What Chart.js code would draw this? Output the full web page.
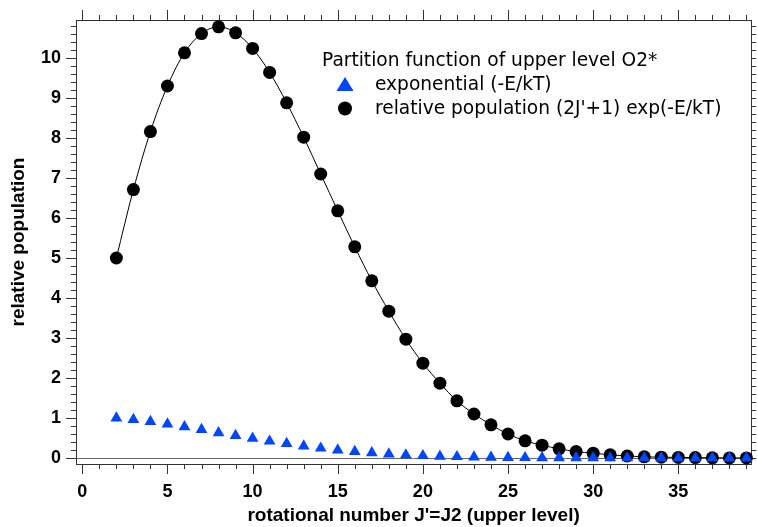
<!DOCTYPE html>
<html>
<head>
<meta charset="utf-8">
<script src="https://cdn.jsdelivr.net/npm/chart.js@4.4.1/dist/chart.umd.min.js"></script>
<style>
  html, body { margin: 0; padding: 0; background: #fff; }
</style>
</head>
<body>
<canvas id="chart" width="758" height="527"></canvas>
<script>
// rotational number J' (upper level)
const rotational = [2, 3, 4, 5, 6, 7, 8, 9, 10, 11, 12, 13, 14, 15, 16, 17, 18, 19, 20,
  21, 22, 23, 24, 25, 26, 27, 28, 29, 30, 31, 32, 33, 34, 35, 36, 37, 38, 39];
// exp(-E/kT)
const exponential = [1.00, 0.96, 0.91, 0.85, 0.78, 0.71, 0.63, 0.56, 0.49, 0.42, 0.36, 0.30,
  0.245, 0.20, 0.16, 0.127, 0.099, 0.076, 0.058, 0.044, 0.032, 0.023, 0.017, 0.012, 0.008,
  0.006, 0.004, 0.003, 0.002, 0.001, 0.001, 0.0008, 0.0005, 0.0003, 0.0002, 0.0001, 0.0001, 0.0001];
// (2J'+1) exp(-E/kT)
const population = [5.00, 6.71, 8.16, 9.30, 10.13, 10.61, 10.78, 10.63, 10.24, 9.64, 8.88, 8.02,
  7.10, 6.18, 5.28, 4.43, 3.67, 2.97, 2.37, 1.87, 1.43, 1.10, 0.83, 0.60, 0.43, 0.32, 0.23,
  0.16, 0.12, 0.08, 0.05, 0.03, 0.02, 0.015, 0.01, 0.005, 0.003, 0.002];

const legendTitle = 'Partition function of upper level O2*';
const seriesLabels = ['exponential (-E/kT)', "relative population (2J'+1) exp(-E/kT)"];
const xTitle = "rotational number J'=J2 (upper level)";
const yTitle = 'relative population';

const BLUE = '#0046ff';
const AXIS = '#333';
const tickFont = { family: "'Liberation Sans', Arial, sans-serif", size: 18, weight: 'bold' };
const titleFont = { family: "'Liberation Sans', Arial, sans-serif", size: 19, weight: 'bold' };

// box frame, zero line, and Igor-style major/minor ticks on all four sides
const frame = {
  id: 'frame',
  beforeDatasetsDraw(chart) {
    const { ctx, chartArea: a, scales: { x, y } } = chart;
    const seg = (x1, y1, x2, y2) => { ctx.beginPath(); ctx.moveTo(x1, y1); ctx.lineTo(x2, y2); ctx.stroke(); };
    ctx.save();
    ctx.lineWidth = 1;

    ctx.strokeStyle = '#666';
    const y0 = Math.round(y.getPixelForValue(0)) + 0.5;
    seg(a.left, y0, a.right, y0);

    ctx.strokeStyle = AXIS;
    ctx.strokeRect(Math.round(a.left) + 0.5, Math.round(a.top) + 0.5,
      Math.round(a.right - a.left), Math.round(a.bottom - a.top));

    for (let v = 0; v <= 39; v++) {
      const px = Math.round(x.getPixelForValue(v)) + 0.5;
      const len = v % 5 === 0 ? 10 : 5;
      seg(px, a.bottom, px, a.bottom + len);
      seg(px, a.top, px, a.top - len);
    }
    for (let i = 0; i <= 54; i++) {
      const py = Math.round(y.getPixelForValue(i * 0.2)) + 0.5;
      const len = i % 5 === 0 ? 10 : 5;
      seg(a.left - len, py, a.left, py);
      seg(a.right, py, a.right + 5, py);
    }
    ctx.restore();
  }
};

const legendBox = {
  id: 'legendBox',
  afterDraw(chart) {
    const { ctx } = chart;
    ctx.save();
    ctx.font = "18.6px 'DejaVu Sans', sans-serif";
    ctx.fillStyle = '#000';
    ctx.textBaseline = 'middle';
    ctx.fillText(legendTitle, 322, 61);
    ctx.fillText(seriesLabels[0], 375, 85);
    ctx.fillText(seriesLabels[1], 375, 109);

    ctx.fillStyle = BLUE;
    ctx.beginPath();
    ctx.moveTo(345, 77);
    ctx.lineTo(353.5, 91);
    ctx.lineTo(336.5, 91);
    ctx.closePath();
    ctx.fill();

    ctx.fillStyle = '#000';
    ctx.beginPath();
    ctx.arc(345, 108.5, 7, 0, Math.PI * 2);
    ctx.fill();
    ctx.restore();
  }
};

new Chart(document.getElementById('chart'), {
  type: 'scatter',
  data: {
    datasets: [
      {
        label: seriesLabels[0],
        data: rotational.map((j, i) => ({ x: j, y: exponential[i] })),
        showLine: false,
        pointStyle: 'triangle',
        pointRadius: 6.8,
        pointBackgroundColor: BLUE,
        pointBorderWidth: 0,
        clip: false,
      },
      {
        label: seriesLabels[1],
        data: rotational.map((j, i) => ({ x: j, y: population[i] })),
        showLine: true,
        borderColor: '#000',
        borderWidth: 1,
        cubicInterpolationMode: 'monotone',
        pointStyle: 'circle',
        pointRadius: 6.5,
        pointBackgroundColor: '#000',
        pointBorderWidth: 0,
        clip: false,
      },
    ],
  },
  options: {
    responsive: false,
    animation: false,
    layout: { padding: { top: 20, right: 4, left: 0, bottom: 0 } },
    plugins: { legend: { display: false }, tooltip: { enabled: false } },
    scales: {
      x: {
        type: 'linear',
        min: -0.37,
        max: 39.28,
        afterFit: (scale) => { scale.height = 63; scale.paddingLeft = 0; scale.paddingRight = 0; },
        grid: { display: false, drawTicks: false },
        border: { display: false },
        ticks: { stepSize: 5, includeBounds: false, padding: 17, color: '#000', font: tickFont },
        title: { display: true, text: xTitle, color: '#000', font: titleFont, padding: { top: 0, bottom: 0 } },
      },
      y: {
        type: 'linear',
        min: -0.15,
        max: 10.95,
        afterFit: (scale) => { scale.width = 76; scale.paddingTop = 0; scale.paddingBottom = 0; },
        grid: { display: false, drawTicks: false },
        border: { display: false },
        ticks: { stepSize: 1, includeBounds: false, padding: 15, color: '#000', font: tickFont },
        title: { display: true, text: yTitle, color: '#000', font: titleFont, padding: { top: 7, bottom: 0 } },
      },
    },
  },
  plugins: [frame, legendBox],
});
</script>
</body>
</html>
